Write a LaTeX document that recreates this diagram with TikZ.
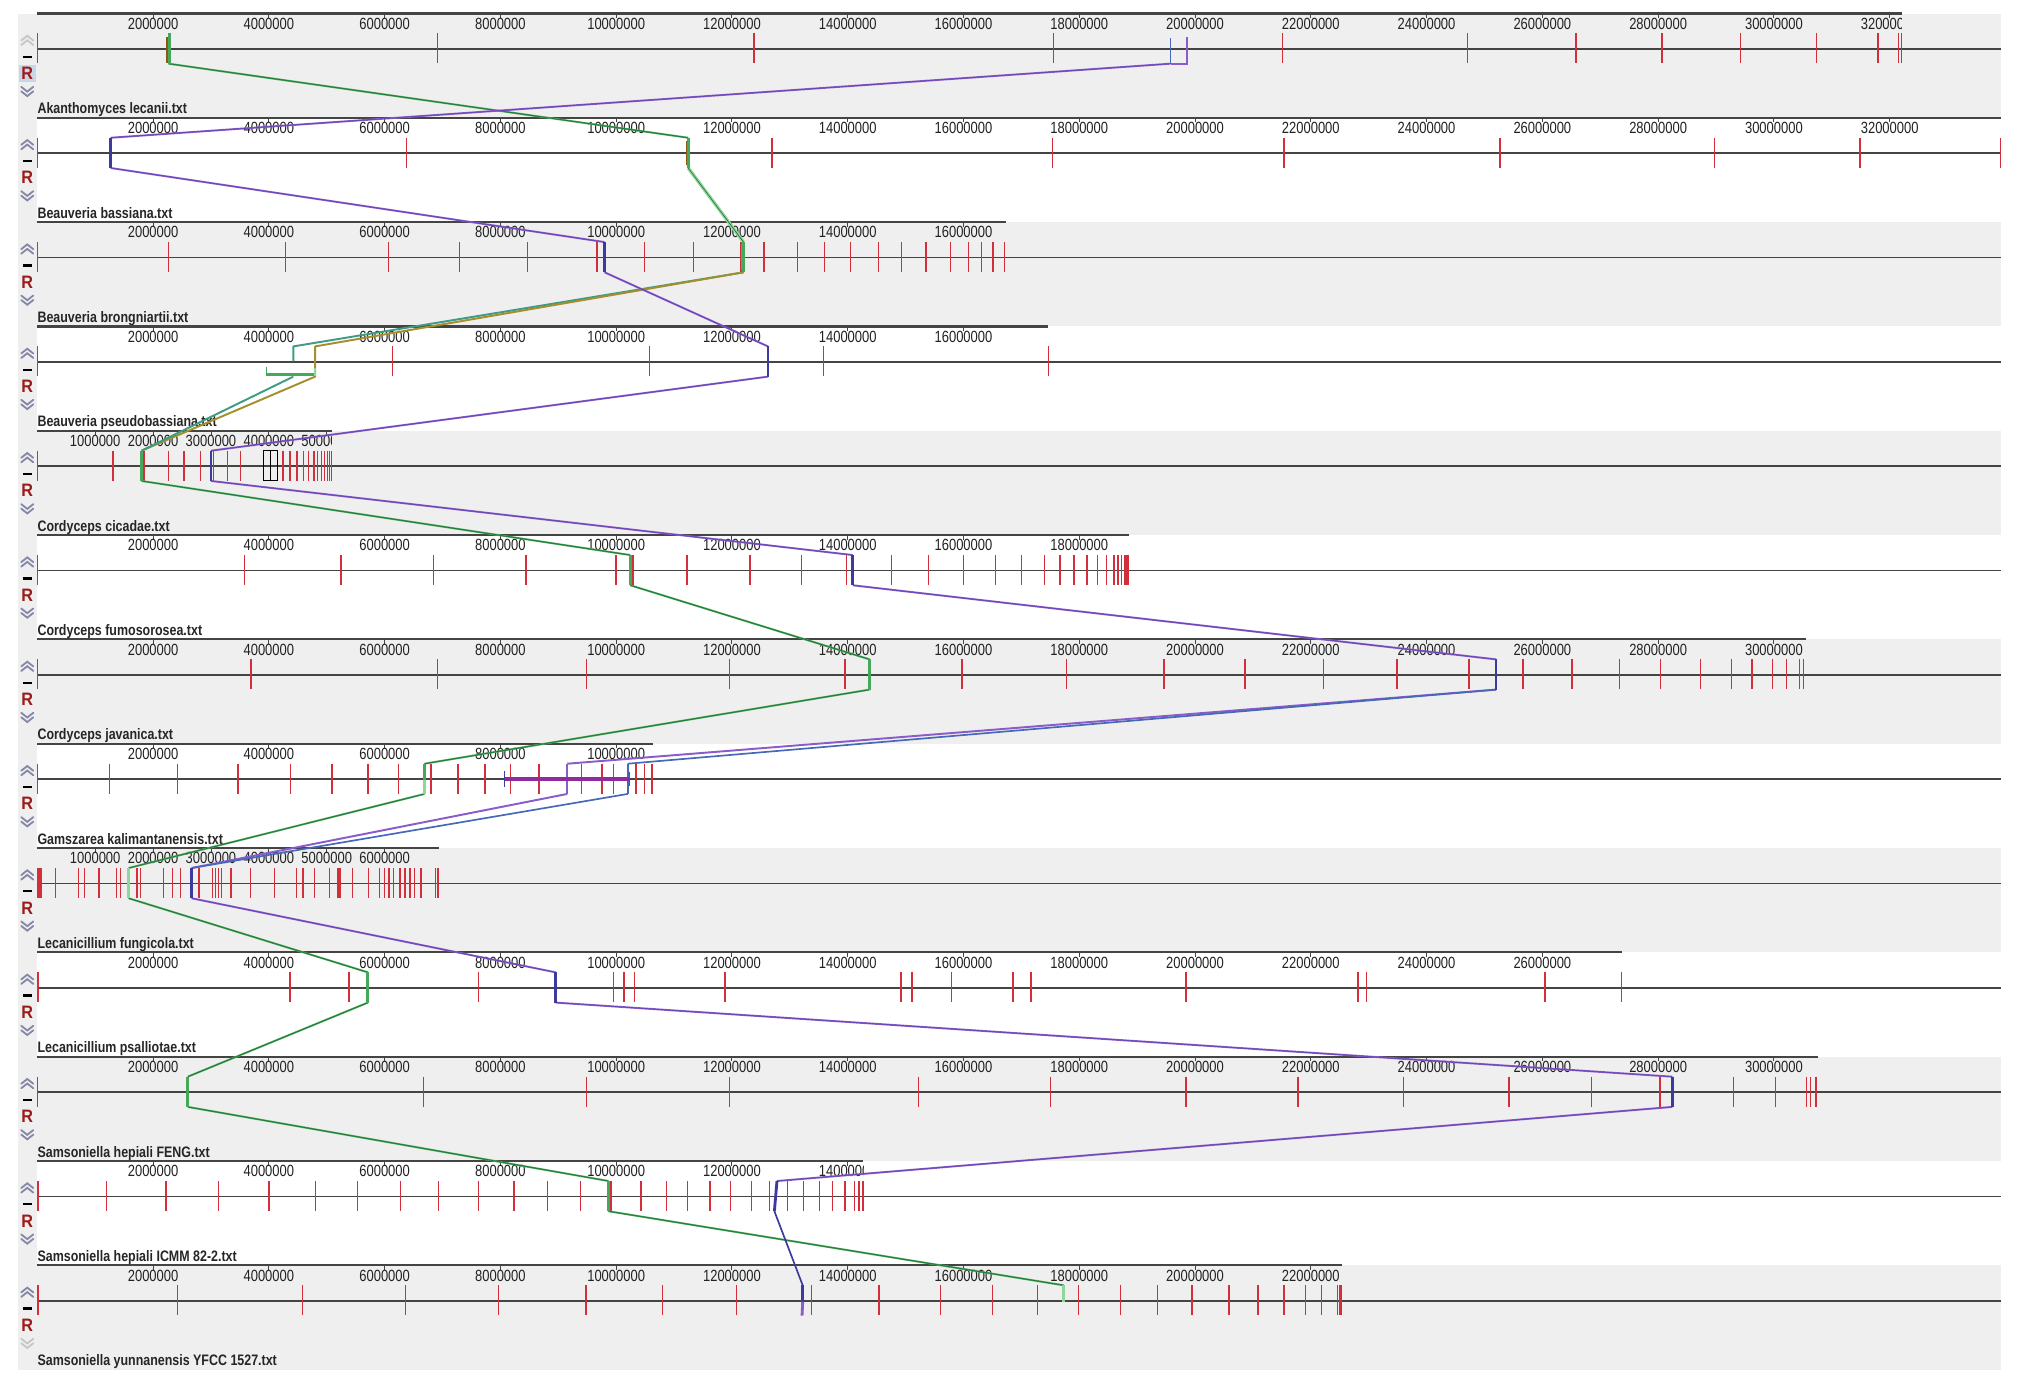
\documentclass[tikz,border=0pt]{standalone}
\usepackage{fontspec}
\newfontfamily\numfont[FakeStretch=0.8]{Liberation Sans}
\newfontfamily\labfont[FakeStretch=0.82]{Liberation Sans}
\newfontfamily\rfont[FakeStretch=0.9]{Liberation Sans}
\definecolor{panelgray}{HTML}{EFEFEF}
\definecolor{barred}{HTML}{D22F3A}
\definecolor{axisgray}{HTML}{444444}
\definecolor{numgray}{HTML}{222222}
\definecolor{labgray}{HTML}{262626}
\definecolor{ctrl}{HTML}{8587A8}
\definecolor{ctrloff}{HTML}{C6C6C8}
\definecolor{rred}{HTML}{9B1B1B}
\definecolor{rbg}{HTML}{C7D6E8}
\definecolor{lcbgreen}{HTML}{45A85A}
\definecolor{lcbdkgreen}{HTML}{1F6B33}
\definecolor{lcbltgreen}{HTML}{8FD69A}
\definecolor{lcbteal}{HTML}{3E9C86}
\definecolor{lcbolive}{HTML}{A48E2E}
\definecolor{lcbpurple}{HTML}{8A5BCB}
\definecolor{lcbcore}{HTML}{5B3FAE}
\definecolor{lcbdkblue}{HTML}{3B3A9E}
\definecolor{lcbblue}{HTML}{4668B8}
\definecolor{lcbmag}{HTML}{8E2C9E}
\definecolor{lcbbrown}{HTML}{8A5A10}
\tikzset{
  bar/.style={draw=barred, line width=1.1},
  rulerline/.style={draw=axisgray, line width=1.6},
  chrline/.style={draw=axisgray, line width=1.2},
  tickmark/.style={draw=axisgray, line width=0.7},
  numlab/.style={font={\numfont\fontsize{12.6}{12.6}\selectfont}, text=numgray, inner sep=0pt, anchor=base},
  labtext/.style={font={\labfont\bfseries\fontsize{11.8}{12}\selectfont}, text=labgray, inner sep=0pt, anchor=base west},
  rlab/.style={font={\rfont\bfseries\fontsize{14}{14}\selectfont}, text=rred, inner sep=0pt},
  chev/.style={line width=1.4, line cap=round, line join=miter},
  gline/.style={draw=lcbgreen, line width=1.5, line join=round},
  gcore/.style={draw=lcbdkgreen, line width=0.45, line join=round},
  pline/.style={draw=lcbpurple, line width=1.5, line join=round},
  pcore/.style={draw=lcbcore, line width=0.4, line join=round},
  bline/.style={draw=lcbblue, line width=1.3, line join=round},
  blk/.style={line width=2.2},
}
\newcommand\mpanel[7]{%
  \pgfmathsetmacro\yo{10.5+81.1*#1}%
  \pgfmathsetmacro\yt{\yo+15.5}%
  \pgfmathsetmacro\yb{\yo+38.7}%
  \pgfmathsetmacro\ym{\yo+27.5}%
  \pgfmathsetmacro\ye{\yo+81.1}%
  \ifnum#7=1 \fill[panelgray] (13.9,\yo) rectangle (1555.5,\ye);
  \else \fill[panelgray] (13.9,\yo) rectangle (29,\ye); \fi
  \draw[chrline] (29,\ym) -- (1555.5,\ym);
  \foreach \x in {#6} {\draw[bar] (\x,\yt) -- (\x,\yb);}
  \begin{scope}
    \clip (29,\yo-3) rectangle (#3,\yo+16);
    \foreach \n in {1,...,#5} {%
      \pgfmathsetmacro\xx{29+\n*#4*45}%
      \draw[tickmark] (\xx,\yo) -- (\xx,\yo+3.5);
      \node[numlab] (r#1n\n) at (\xx,\yo+12.2) {\the\numexpr\n*#4\relax 000000};
    }
  \end{scope}
  \draw[rulerline] (29,\yo) -- (#3,\yo);
  \node[labtext] (lab#1) at (29,\yo+78) {#2};
  \ifnum#1=0 \def\upc{ctrloff}\else\def\upc{ctrl}\fi
  \ifnum#1=12 \def\dnc{ctrloff}\else\def\dnc{ctrl}\fi
  \draw[chev, draw=\upc] (16.5,\yo+21) -- (21.2,\yo+17.3) -- (25.9,\yo+21);
  \draw[chev, draw=\upc] (16.5,\yo+24.5) -- (21.2,\yo+20.8) -- (25.9,\yo+24.5);
  \draw[line width=1.8, draw=black] (17.6,\yo+33.6) -- (25,\yo+33.6);
  \ifnum#1=0 \fill[rbg] (14.5,\yo+40) rectangle (27.8,\yo+53.2); \fi
  \node[rlab] (R#1) at (21.2,\yo+46.6) {R};
  \draw[chev, draw=\dnc] (16.5,\yo+57) -- (21.2,\yo+60.7) -- (25.9,\yo+57);
  \draw[chev, draw=\dnc] (16.5,\yo+60.5) -- (21.2,\yo+64.2) -- (25.9,\yo+60.5);
}
\newcommand\gseg[2]{\draw[gline] #1 -- #2; \draw[gcore] #1 -- #2;}
\newcommand\pseg[2]{\draw[pline] #1 -- #2; \draw[pcore] #1 -- #2;}
\begin{document}
\begin{tikzpicture}[x=1pt,y=-1pt]
\useasboundingbox (0,0) rectangle (1568,1075);
\fill[white] (0,0) rectangle (1568,1075);

\mpanel{0}{Akanthomyces lecanii.txt}{1478.5}{2}{16}{29,340,586,819,997,1141,1225,1292,1353,1412,1460,1476,1478}{1}
\mpanel{1}{Beauveria bassiana.txt}{1555.5}{2}{16}{29,316,600,818,998,1166,1333,1446,1555}{0}
\mpanel{2}{Beauveria brongniartii.txt}{782}{2}{8}{29,131,222,302,357,410,464,501,539,576,594,620,641,661,683,701,720,739,753,763,772,781}{1}
\mpanel{3}{Beauveria pseudobassiana.txt}{815}{2}{8}{29,305,505,640,815}{0}
\mpanel{4}{Cordyceps cicadae.txt}{258}{1}{5}{29,88,112,131,143,156,166,177,187,220,225.6,231,236,240,244,247,250,252.3,254.4,256.1,257.5}{1}
\mpanel{5}{Cordyceps fumosorosea.txt}{878}{2}{9}{29,190,265,337,409,479,492,534,583,623,658,693,722,749,774,794,812,824,835,845,853,860,866,869,872}{0}
\mpanel{6}{Cordyceps javanica.txt}{1404}{2}{15}{29,195,340,456,567,657,748,829,905,968,1029,1086,1142,1184,1222,1259,1291,1322,1346,1362,1378,1389,1399,1402}{1}
\mpanel{7}{Gamszarea kalimantanensis.txt}{507.5}{2}{5}{29,85,138,185,226,258,286,310,335,356,377,397,419,452,468,477,494.5,501,507}{0}
\mpanel{8}{Lecanicillium fungicola.txt}{341}{1}{6}{29.7,31,32.2,43.1,61,65.9,76.8,90.7,93.7,106.6,109,127,133.9,140.3,154.7,165,167.5,170,172,179.5,194.8,213.2,230.5,235.5,244.4,256.3,262.8,264.2,274.2,286.6,295,299,302.4,306,310.9,314.8,318.8,322.3,327.2,338.6,340.6}{1}
\mpanel{9}{Lecanicillium psalliotae.txt}{1261}{2}{13}{29.7,225.6,271.2,371.8,477,485,493.3,563.7,700.5,709,739.7,787.5,801.6,922,1055.7,1062.2,1200.9,1260.4}{0}
\mpanel{10}{Samsoniella hepiali FENG.txt}{1413}{2}{15}{29,329,456,567,714,816.7,922,1009,1091,1173,1237,1290.6,1347.6,1380.3,1404.5,1407.6,1411.6}{1}
\mpanel{11}{Samsoniella hepiali ICMM 82-2.txt}{671}{2}{7}{29.7,82.8,128.9,170,209.2,245.4,278.1,311.4,341.1,371.8,399.6,425.4,451.2,475,498.3,518.1,534.5,551.8,567.7,584.1,598.4,612.3,624.7,637.1,647,656.9,664.4,667.8,670.8}{0}
\mpanel{12}{Samsoniella yunnanensis YFCC 1527.txt}{1043.5}{2}{11}{29.5,138.1,235.3,315.1,387.7,455.7,514.8,572.7,631,683.4,731,771.4,806.4,838.5,871,899.6,926.5,955.5,978,998,1015,1027.3,1039.6,1041.6,1043}{1}

% extra panel details
\fill[barred] (873.5,431.5) rectangle (878,454.7);
\draw[black, line width=0.8] (205,350.4) rectangle (216,373.9);
\draw[black, line width=0.6] (210.5,350.4) -- (210.5,373.9);

% ---------- green LCB ----------
\gseg{(131,49.5)}{(535,107.1)}
\draw[gline, draw=lcbltgreen, line width=2.6] (535,130.6) -- (578,188.2);
\draw[gcore] (535,130.6) -- (578,188.2);
\draw[gline, draw=lcbteal] (578,211.7) -- (228,269.3) -- (228,281);
\draw[gline, draw=lcbolive] (578,211.7) -- (245,269.3) -- (245,292.8) -- (110,350.4);
\draw[gline, draw=lcbteal] (228,292.8) -- (110,350.4);
\gseg{(110,373.9)}{(490,431.5)}
\gseg{(490,455)}{(676,512.6)}
\gseg{(676,536.1)}{(330,593.7)}
\gseg{(330,617.2)}{(100,674.8)}
\gseg{(100,698.3)}{(286,755.9)}
\gseg{(286,779.4)}{(146,837)}
\gseg{(146,860.5)}{(473,918.1)}
\gseg{(473,941.6)}{(827,999.2)}

% green blocks
\draw[blk, draw=lcbgreen] (132,26) -- (132,49.5);
\draw[line width=1.2, draw=lcbbrown] (130,29) -- (130,49);
\draw[blk, draw=lcbgreen] (535.5,107.1) -- (535.5,130.6);
\draw[line width=1.2, draw=lcbbrown] (533.8,110) -- (533.8,128);
\draw[blk, draw=lcbgreen] (578,188.2) -- (578,211.7);
\draw[line width=1.1, draw=lcbolive] (576.5,190) -- (576.5,210);
\draw[line width=2.2, draw=lcbgreen] (207,291) -- (245,291);
\draw[line width=1.1, draw=lcbgreen] (207,285) -- (207,292.5);
\draw[line width=1.1, draw=lcbltgreen] (245,286) -- (245,292.5);
\draw[blk, draw=lcbgreen] (110,350.4) -- (110,373.9);
\draw[blk, draw=lcbgreen] (490,431.5) -- (490,455);
\draw[blk, draw=lcbgreen] (676,512.6) -- (676,536.1);
\draw[blk, draw=lcbgreen] (330,593.7) -- (330,606);
\draw[blk, draw=lcbltgreen] (330,606) -- (330,617.2);
\draw[blk, draw=lcbltgreen] (100,674.8) -- (100,698.3);
\draw[blk, draw=lcbgreen] (286,755.9) -- (286,779.4);
\draw[blk, draw=lcbgreen] (146,837) -- (146,860.5);
\draw[blk, draw=lcbgreen] (473,918.1) -- (473,941.6);
\draw[blk, draw=lcbltgreen] (827,999.2) -- (827,1012);

% ---------- purple LCB ----------
\pseg{(910,49.5)}{(86,107.1)}
\pseg{(86,130.6)}{(470,188.2)}
\pseg{(470,211.7)}{(597,269.3)}
\pseg{(597,292.8)}{(164,350.4)}
\pseg{(164,373.9)}{(663,431.5)}
\pseg{(663,455)}{(1163,512.6)}
\draw[pline] (1163,536.1) -- (441,593.7);
\draw[bline] (1163,536.1) -- (488,593.7);
\draw[pline] (441,617.2) -- (149,674.8);
\draw[bline] (488,617.2) -- (149,674.8);
\pseg{(149,698.3)}{(432,755.9)}
\pseg{(432,779.4)}{(1300,837)}
\pseg{(1300,860.5)}{(604,918.1)}
\draw[pline, draw=lcbdkblue, line width=1.3] (602,941.6) -- (624,999.2);

% purple blocks
\draw[line width=1.4, draw=lcbblue] (910,29.8) -- (910,49.5);
\draw[line width=1.4, draw=lcbpurple] (923,28.5) -- (923,49.5) -- (910,49.5);
\draw[blk, draw=lcbdkblue] (86,107.1) -- (86,130.6);
\draw[blk, draw=lcbdkblue] (470,188.2) -- (470,211.7);
\draw[blk, draw=lcbdkblue] (597,269.3) -- (597,292.8);
\draw[blk, draw=lcbdkblue] (164,350.4) -- (164,373.9);
\draw[blk, draw=lcbdkblue] (663,431.5) -- (663,455);
\draw[blk, draw=lcbdkblue] (1163,512.6) -- (1163,536.1);
\draw[line width=1.5, draw=lcbpurple] (441,593.7) -- (441,617.2);
\draw[line width=1.5, draw=lcbblue] (488,593.7) -- (488,617.2);
\draw[line width=2.6, draw=lcbmag] (392,605.7) -- (489,605.7);
\draw[line width=1.1, draw=lcbdkblue] (392,599.5) -- (392,611.5);
\draw[line width=1.1, draw=lcbmag] (489.5,600) -- (489.5,611);
\draw[blk, draw=lcbdkblue] (149,674.8) -- (149,698.3);
\draw[blk, draw=lcbdkblue] (432,755.9) -- (432,779.4);
\draw[blk, draw=lcbdkblue] (1300,837) -- (1300,860.5);
\draw[blk, draw=lcbdkblue] (604,918.1) -- (602,941.6);
\draw[blk, draw=lcbdkblue] (624,999.2) -- (624,1012);
\draw[blk, draw=lcbpurple] (624,1012) -- (623.5,1022.7);
\end{tikzpicture}
\end{document}
